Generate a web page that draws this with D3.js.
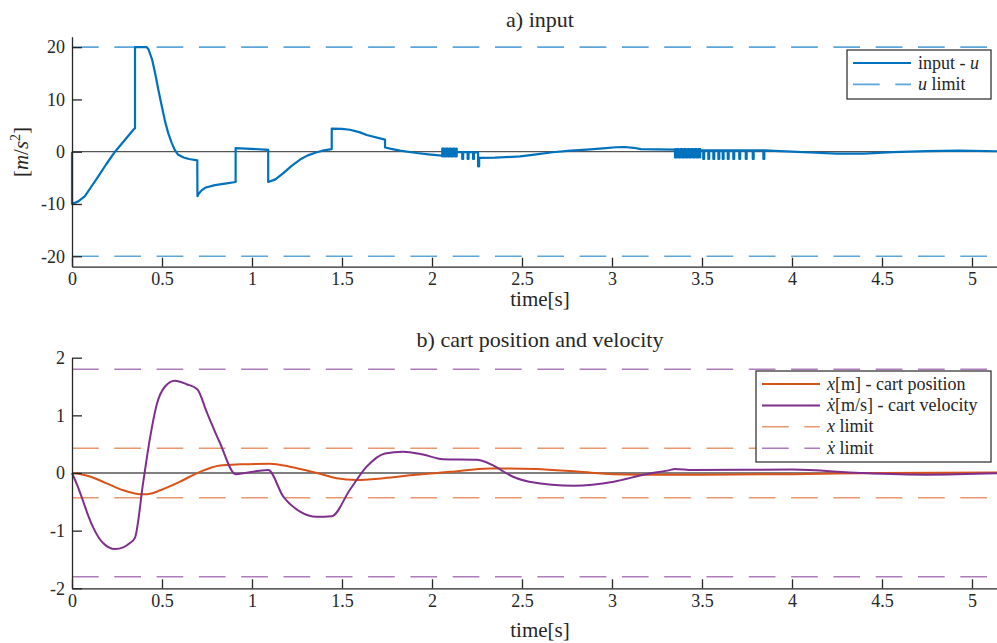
<!DOCTYPE html>
<html>
<head>
<meta charset="utf-8">
<script src="https://cdn.jsdelivr.net/npm/d3@7"></script>
<style>
  html, body { margin: 0; padding: 0; background: #fff; }
  svg { display: block; }
</style>
</head>
<body>
<svg id="fig" width="997" height="643">
  <text x="540" y="27" text-anchor="middle" font-family="Liberation Serif" font-size="22" fill="#262626">a) input</text>
  <text x="540" y="347" text-anchor="middle" font-family="Liberation Serif" font-size="22" fill="#262626">b) cart position and velocity</text>
  <text x="540" y="306" text-anchor="middle" font-family="Liberation Serif" font-size="21" fill="#262626">time[s]</text>
  <text x="540" y="637" text-anchor="middle" font-family="Liberation Serif" font-size="21" fill="#262626">time[s]</text>
</svg>
<script>
const SERIF = "Liberation Serif";

// ---- time axis ----
const timeDomain = [0, 5.2];
const timeTicks = [0, 0.5, 1, 1.5, 2, 2.5, 3, 3.5, 4, 4.5, 5];

// ---- a) input u(t) [m/s^2] ----
const inputTicks = [-20, -10, 0, 10, 20];
const inputLimit = 20;
// piecewise trace before the first chattering burst (repeated t = switching jump)
const inputSegA = [
  [0, 0], [0, -10], [0.035, -9.5], [0.072, -8.5], [0.105, -6.8], [0.146, -4.7],
  [0.19, -2.4], [0.239, 0], [0.29, 2.1], [0.341, 4.2], [0.35, 4.5], [0.35, 20],
  [0.415, 20], [0.425, 19.6], [0.446, 17.5], [0.463, 14.8], [0.48, 11.8], [0.5, 8.5],
  [0.517, 5.8], [0.535, 3.5], [0.554, 1.7], [0.57, 0.4], [0.59, -0.6], [0.62, -1.1],
  [0.65, -1.4], [0.696, -1.65], [0.697, -8.5], [0.705, -8.0], [0.72, -7.4],
  [0.739, -6.9], [0.794, -6.4], [0.85, -6.1], [0.909, -5.8], [0.909, 0.7],
  [1.072, 0.4], [1.09, 0.35], [1.09, -5.8], [1.13, -5.3], [1.174, -4.1], [1.22, -2.7],
  [1.267, -1.5], [1.31, -0.7], [1.36, -0.1], [1.4, 0.25], [1.443, 0.5], [1.443, 4.4],
  [1.5, 4.35], [1.544, 4.2], [1.6, 3.7], [1.637, 3.2], [1.739, 2.3], [1.739, 0.8],
  [1.78, 0.5], [1.822, 0.2], [1.915, -0.25], [1.98, -0.5], [2.054, -0.76]
];
// first chattering burst: switching instants and the two levels it toggles between
const burst1Switch = [2.057, 2.067, 2.077, 2.087, 2.097, 2.107, 2.117, 2.127, 2.137];
const burst1Levels = [-0.9, 0.6];
// isolated downward pulses after the burst: instants, base level, pulse level
const pulses1Times = [2.168, 2.198, 2.228];
const pulses1Levels = [-0.1, -1.4];
const inputSegB = [
  [2.256, -0.15], [2.256, -2.8], [2.262, -2.8], [2.262, -1.2], [2.35, -1.15],
  [2.49, -0.9], [2.58, -0.5], [2.67, -0.1], [2.77, 0.2], [2.86, 0.4], [2.95, 0.65],
  [3.02, 0.85], [3.07, 0.9], [3.12, 0.75], [3.16, 0.5], [3.25, 0.45], [3.35, 0.4]
];
const burst2Switch = [3.35, 3.36, 3.37, 3.38, 3.39, 3.40, 3.41, 3.42, 3.43, 3.44,
  3.45, 3.46, 3.47, 3.48, 3.49];
const burst2Levels = [0.5, -1.1];
const pulses2Times = [3.507, 3.535, 3.563, 3.591, 3.615, 3.643, 3.674, 3.707,
  3.743, 3.782, 3.841];
const pulses2Levels = [0.25, -1.4];
const inputSegC = [
  [3.85, 0.25], [3.9, 0.15], [4.0, 0.0], [4.1, -0.15], [4.25, -0.35], [4.4, -0.35],
  [4.56, -0.1], [4.75, 0.1], [4.93, 0.2], [5.2, 0.05]
];

// ---- b) cart position [m] and velocity [m/s] ----
const cartTicks = [-2, -1, 0, 1, 2];
const positionLimit = 0.43;
const velocityLimit = 1.8;
const cartPosition = [
  [0, 0], [0.05, -0.02], [0.1, -0.06], [0.193, -0.18], [0.285, -0.3], [0.35, -0.355],
  [0.395, -0.37], [0.44, -0.355], [0.49, -0.3], [0.6, -0.15], [0.711, 0.02],
  [0.822, 0.13], [0.933, 0.15], [1.1, 0.16], [1.21, 0.11], [1.36, 0.0], [1.47, -0.09],
  [1.58, -0.12], [1.73, -0.09], [1.91, -0.03], [2.1, 0.02], [2.32, 0.08], [2.43, 0.08],
  [2.58, 0.07], [2.82, 0.02], [3.01, -0.02], [3.29, -0.03], [3.5, -0.03], [4.0, -0.02],
  [4.5, 0.0], [5.2, 0.01]
];
const cartVelocity = [
  [0, 0], [0.03, -0.22], [0.063, -0.5], [0.09, -0.74], [0.12, -0.96], [0.174, -1.22],
  [0.239, -1.32], [0.285, -1.29], [0.32, -1.22], [0.35, -1.12], [0.396, -0.15],
  [0.433, 0.6], [0.47, 1.18], [0.517, 1.5], [0.572, 1.6], [0.637, 1.54], [0.697, 1.45],
  [0.748, 1.06], [0.822, 0.52], [0.909, -0.02], [1.044, 0.04], [1.09, 0.05],
  [1.174, -0.41], [1.267, -0.67], [1.36, -0.76], [1.443, -0.75], [1.544, -0.29],
  [1.637, 0.11], [1.739, 0.34], [1.84, 0.37], [1.95, 0.32], [2.06, 0.24], [2.25, 0.23],
  [2.38, 0.06], [2.41, 0.0], [2.54, -0.15], [2.79, -0.22], [3.01, -0.15], [3.19, -0.02],
  [3.32, 0.05], [3.35, 0.07], [3.45, 0.05], [4.0, 0.06], [4.38, 0.0], [4.75, -0.03],
  [5.2, 0.0]
];

// ---- colours ----
const C = {
  axis: "#262626", zero: "#555555",
  u: "#0072BD", uLim: "#5DA5DA",
  x: "#D95319", xLim: "#E8976F",
  v: "#7E2F8E", vLim: "#AE7CBA"
};

// switching signal helpers
function toggleTrain(times, levels) {
  const pts = [];
  let k = 0;
  times.forEach(t => { pts.push([t, levels[k]]); k = 1 - k; pts.push([t, levels[k]]); });
  return pts;
}
function pulseTrain(times, levels, width = 0.005) {
  const pts = [];
  times.forEach(t => {
    pts.push([t, levels[0]], [t, levels[1]], [t + width, levels[1]], [t + width, levels[0]]);
  });
  return pts;
}
const inputTrace = [].concat(
  inputSegA,
  toggleTrain(burst1Switch, burst1Levels),
  [[burst1Switch[burst1Switch.length - 1], pulses1Levels[0]]],
  pulseTrain(pulses1Times, pulses1Levels),
  inputSegB,
  toggleTrain(burst2Switch, burst2Levels),
  [[burst2Switch[burst2Switch.length - 1], pulses2Levels[0]]],
  pulseTrain(pulses2Times, pulses2Levels),
  inputSegC
);

const svg = d3.select("#fig");
const x = d3.scaleLinear().domain(timeDomain).range([72, 1008]);
const fmt = d => String(d);

function drawAxes(g, y, yTicks) {
  const yRange = y.range();
  const ax = g.append("g").attr("transform", `translate(0,${yRange[0]})`)
    .call(d3.axisBottom(x).tickValues(timeTicks).tickFormat(fmt)
      .tickSizeInner(-9).tickSizeOuter(0).tickPadding(6));
  const ay = g.append("g").attr("transform", `translate(${x.range()[0]},0)`)
    .call(d3.axisLeft(y).tickValues(yTicks).tickFormat(fmt)
      .tickSizeInner(-10).tickSizeOuter(0).tickPadding(7));
  [ax, ay].forEach(a => {
    a.attr("font-family", SERIF).attr("font-size", 18);
    a.select(".domain").attr("stroke", C.axis).attr("stroke-width", 1.3);
    a.selectAll(".tick line").attr("stroke", C.axis).attr("stroke-width", 1.3);
    a.selectAll(".tick text").attr("fill", C.axis).attr("font-family", SERIF);
  });
}

function hline(g, y, v, color, dashed, width) {
  const l = g.append("line")
    .attr("x1", x(timeDomain[0])).attr("x2", x(timeDomain[1]))
    .attr("y1", y(v)).attr("y2", y(v))
    .attr("stroke", color).attr("stroke-width", width);
  if (dashed) l.attr("stroke-dasharray", "26.7,15.6");
}

function trace(g, y, data, color, width, curve) {
  g.append("path").datum(data)
    .attr("fill", "none").attr("stroke", color).attr("stroke-width", width)
    .attr("stroke-linejoin", "round")
    .attr("d", d3.line().x(d => x(d[0])).y(d => y(d[1])).curve(curve));
}

// rich text: list of [string, style] pieces; style "i" = italic math symbol,
// "d" = italic symbol with a time-derivative dot above it
function richText(parent, xPos, yPos, pieces, size, anchor = "start") {
  const t = parent.append("text").attr("x", xPos).attr("y", yPos)
    .attr("text-anchor", anchor).attr("font-family", SERIF).attr("font-size", size)
    .attr("fill", C.axis);
  pieces.forEach(([s, st]) => {
    const sp = t.append("tspan").text(s);
    if (st === "i" || st === "d") sp.attr("font-style", "italic");
    if (st === "d") {
      parent.append("text").attr("x", xPos + size * 0.27).attr("y", yPos)
        .attr("text-anchor", "middle").attr("font-family", SERIF).attr("font-size", size)
        .attr("fill", C.axis).text("\u02D9");
    }
  });
  return t;
}

function legend(g, box, rows) {
  const lg = g.append("g");
  lg.append("rect").attr("x", box[0]).attr("y", box[1]).attr("width", box[2]).attr("height", box[3])
    .attr("fill", "#fff").attr("stroke", C.axis).attr("stroke-width", 1.2);
  rows.forEach((r, i) => {
    const cy = box[1] + 13 + i * 21.4;
    const l = lg.append("line").attr("x1", box[0] + 6).attr("x2", box[0] + 64)
      .attr("y1", cy).attr("y2", cy).attr("stroke", r.color).attr("stroke-width", r.width);
    if (r.dashed) l.attr("stroke-dasharray", "26.7,15.6");
    richText(lg, box[0] + 71, cy + 5.5, r.label, 18);
  });
}

// ===== panel a) input =====
const ga = svg.append("g");
const ya = d3.scaleLinear().domain([-22, 22]).range([266.7, 36.7]);
hline(ga, ya, 0, C.zero, false, 1.3);
hline(ga, ya, inputLimit, C.uLim, true, 1.6);
hline(ga, ya, -inputLimit, C.uLim, true, 1.6);
trace(ga, ya, inputTrace, C.u, 2.2, d3.curveLinear);
drawAxes(ga, ya, inputTicks);
{
  const t = svg.append("text").attr("transform", "translate(28,152) rotate(-90)")
    .attr("text-anchor", "middle").attr("font-family", SERIF).attr("font-size", 21)
    .attr("fill", C.axis);
  t.append("tspan").text("[");
  t.append("tspan").text("m").attr("font-style", "italic");
  t.append("tspan").text("/");
  t.append("tspan").text("s").attr("font-style", "italic");
  t.append("tspan").text("2").attr("dy", -8).attr("font-size", 14);
  t.append("tspan").text("]").attr("dy", 8);
}
legend(ga, [847, 50, 144, 49], [
  { color: C.u, width: 2.2, dashed: false, label: [["input - ", ""], ["u", "i"]] },
  { color: C.uLim, width: 1.6, dashed: true, label: [["u", "i"], [" limit", ""]] }
]);

// ===== panel b) cart position and velocity =====
const gb = svg.append("g");
const yb = d3.scaleLinear().domain([-2, 2]).range([588.3, 357.7]);
hline(gb, yb, 0, C.zero, false, 1.3);
hline(gb, yb, positionLimit, C.xLim, true, 1.6);
hline(gb, yb, -positionLimit, C.xLim, true, 1.6);
hline(gb, yb, velocityLimit, C.vLim, true, 1.6);
hline(gb, yb, -velocityLimit, C.vLim, true, 1.6);
trace(gb, yb, cartPosition, C.x, 2, d3.curveMonotoneX);
trace(gb, yb, cartVelocity, C.v, 2, d3.curveMonotoneX);
drawAxes(gb, yb, cartTicks);
legend(gb, [756, 371, 235, 91], [
  { color: C.x, width: 2, dashed: false, label: [["x", "i"], ["[m] - cart position", ""]] },
  { color: C.v, width: 2, dashed: false, label: [["x", "d"], ["[m/s] - cart velocity", ""]] },
  { color: C.xLim, width: 1.6, dashed: true, label: [["x", "i"], [" limit", ""]] },
  { color: C.vLim, width: 1.6, dashed: true, label: [["x", "d"], [" limit", ""]] }
]);
</script>
</body>
</html>
